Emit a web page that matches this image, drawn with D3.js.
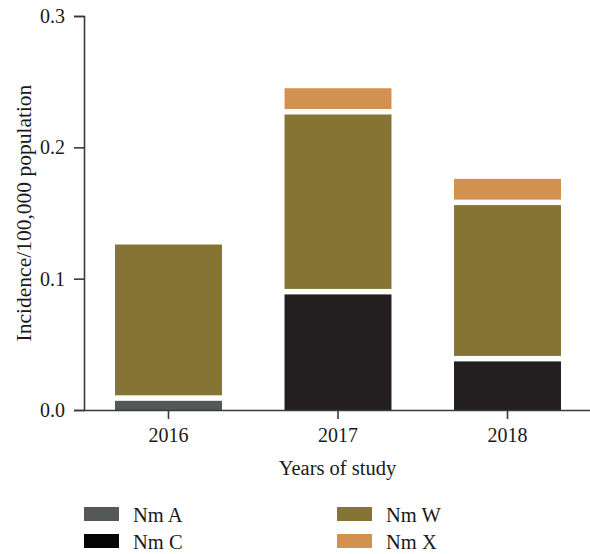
<!DOCTYPE html>
<html><head><meta charset="utf-8">
<script src="https://cdn.jsdelivr.net/npm/d3@7"></script>
<style>body{margin:0;background:#fff}svg{display:block}</style>
</head><body><svg id="c" width="590" height="554"></svg>
<script>
const years = ["2016", "2017", "2018"];
const seriesNames = ["Nm A", "Nm C", "Nm W", "Nm X"];
const nmA = [0.007, 0, 0];
const nmC = [0, 0.088, 0.037];
const nmW = [0.119, 0.137, 0.119];
const nmX = [0, 0.020, 0.020];
const yTicks = [0.0, 0.1, 0.2, 0.3];
const barColors = ["#555859", "#231f20", "#857433", "#d2914f"];
const legendColors = ["#555859", "#050505", "#857433", "#d2914f"];

const svg = d3.select("#c");
const font = "'Liberation Serif', 'Times New Roman', serif";
const x = d3.scaleBand().domain(years).range([84, 592]).paddingInner(0.369).paddingOuter(0.183);
const y = d3.scaleLinear().domain([0, 0.3]).range([410, 16]);

const table = years.map((yr, i) => ({year: yr, "Nm A": nmA[i], "Nm C": nmC[i], "Nm W": nmW[i], "Nm X": nmX[i]}));
const stack = d3.stack().keys(seriesNames)(table);
const gap = 5.5;

stack.forEach((layer, k) => {
  svg.append("g").attr("fill", barColors[k])
    .selectAll("rect").data(layer.filter(d => d[1] - d[0] > 0)).join("rect")
    .attr("x", d => x(d.data.year))
    .attr("width", x.bandwidth())
    .attr("y", d => y(d[1]))
    .attr("height", d => Math.max(0, y(d[0]) - y(d[1]) - (d[0] > 0 ? gap : 0)));
});

// axes
const yAxis = svg.append("g").attr("transform", "translate(84,0)")
  .call(d3.axisLeft(y).tickValues(yTicks).tickFormat(d3.format(".1f")).tickSizeOuter(0).tickSize(10).tickPadding(9));
const xAxis = svg.append("g").attr("transform", "translate(0,410)")
  .call(d3.axisBottom(x).tickSizeOuter(0).tickSize(9).tickPadding(9));
xAxis.select(".domain").attr("d", "M84,0.5H590");
[yAxis, xAxis].forEach(a => {
  a.selectAll("path,line").attr("stroke", "#3a3a3a").attr("stroke-width", 1.6);
  a.selectAll("text").attr("font-family", font).attr("font-size", 20).attr("fill", "#1a1a1a");
});

svg.append("text").attr("x", 337.5).attr("y", 475).attr("text-anchor", "middle")
  .attr("font-family", font).attr("font-size", 20.5).attr("fill", "#1a1a1a").text("Years of study");
svg.append("text").attr("transform", "translate(31,213) rotate(-90)").attr("text-anchor", "middle")
  .attr("font-family", font).attr("font-size", 21.5).attr("fill", "#1a1a1a").text("Incidence/100,000 population");

// legend
const legPos = [[84, 507], [84, 534], [337, 507], [337, 534]];
seriesNames.forEach((n, k) => {
  const g = svg.append("g").attr("transform", `translate(${legPos[k][0]},${legPos[k][1]})`);
  g.append("rect").attr("width", 35).attr("height", 14).attr("fill", legendColors[k]);
  g.append("text").attr("x", 49).attr("y", 14.5).attr("font-family", font).attr("font-size", 20.5)
    .attr("fill", "#1a1a1a").text(n);
});
</script></body></html>
